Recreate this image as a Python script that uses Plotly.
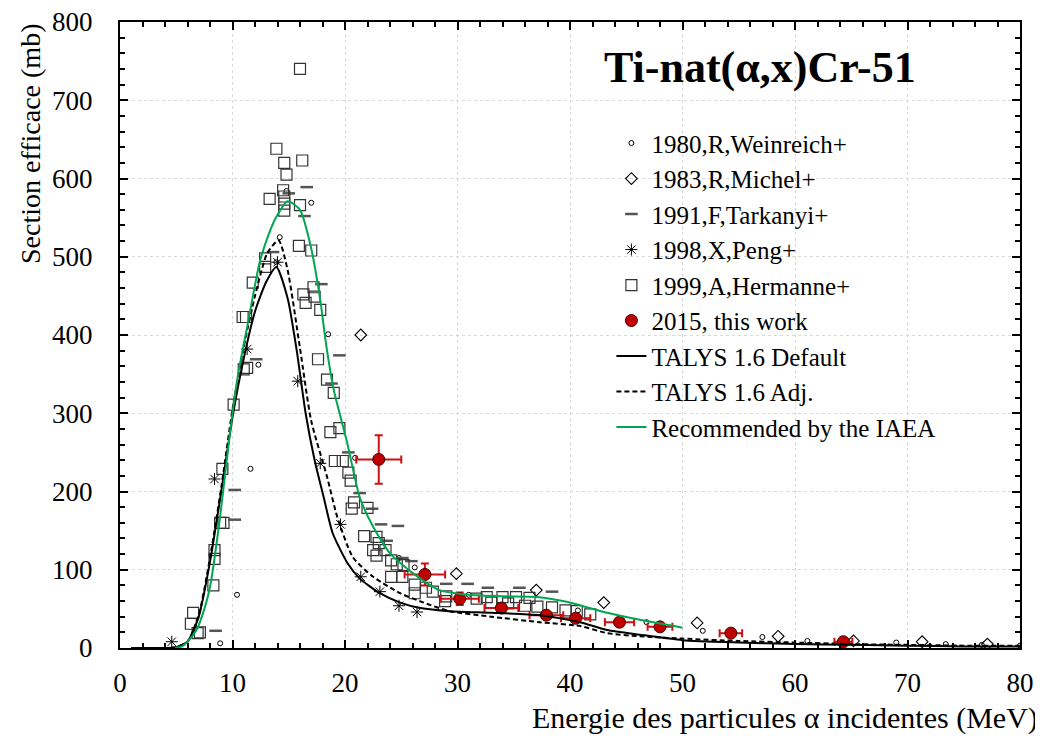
import plotly.graph_objects as go

# ---------------- data ----------------
wein_x = [8.9, 10.4, 11.6, 12.3, 13.9, 14.2, 14.8, 17.0, 18.5, 20.9, 24.8, 26.2, 27.1, 31.0, 40.7, 46.8, 51.8, 57.1, 61.1, 69.0, 73.4, 76.6, 80.0]
wein_y = [6, 68, 229, 362, 493, 525, 584, 569, 401, 243, 115, 103, 95, 68, 48, 33, 22, 14, 9, 7, 5, 4, 3]

mich_x = [21.4, 29.9, 37.0, 43.0, 51.3, 58.5, 65.2, 71.3, 77.1]
mich_y = [400, 95, 74, 58, 32, 15, 9, 8, 5]

tark_x = [8.5, 10.2, 10.2, 12.1, 13.6, 15.0, 16.4, 16.6, 17.9, 18.8, 19.5, 20.3, 21.3, 22.4, 23.2, 23.7, 24.7, 25.1, 25.9, 29.0, 30.9, 32.7, 35.5, 38.4]
tark_y = [22, 164, 202, 369, 506, 581, 552, 589, 465, 338, 374, 250, 198, 178, 158, 137, 156, 115, 111, 82, 82, 77, 77, 72]

peng_x = [4.6, 8.4, 11.3, 14.0, 15.8, 17.8, 19.6, 21.4, 23.1, 24.8, 26.4]
peng_y = [8, 216, 382, 493, 341, 236, 158, 91, 72, 54, 46]

herm_x = [6.3, 6.5, 6.9, 7.1, 8.3, 8.4, 8.4, 8.9, 9.2, 9.1, 10.1, 11.0, 11.3, 10.9, 11.2, 11.8, 12.9, 12.9, 13.3, 13.9,
          14.5, 14.6, 14.6, 14.6, 14.6, 14.8, 16.0, 16.2, 16.0, 15.9, 17.0, 17.2, 16.3, 17.3, 16.5, 17.8, 17.6, 18.4, 19.0, 18.7,
          19.5, 19.1, 19.8, 20.3, 20.5, 20.8, 20.6, 22.0, 21.7, 22.8, 23.0, 23.6, 22.5, 22.8, 24.1, 24.6, 25.2, 24.1, 25.1, 26.2,
          26.2, 27.2, 27.8, 29.0, 28.9, 31.7, 32.6, 34.0, 35.2, 33.0, 34.5, 36.0, 37.1, 38.4, 39.6, 40.6, 41.8, 36.4]
herm_y = [31, 45, 19, 20, 80, 114, 125, 160, 160, 229, 311, 356, 358, 423, 423, 467, 487, 498, 574, 638,
          585, 577, 568, 559, 620, 605, 740, 623, 566, 514, 508, 461, 452, 449, 441, 432, 369, 343, 326, 276,
          281, 239, 239, 224, 214, 186, 178, 179, 143, 142, 134, 125, 125, 118, 112, 107, 106, 91, 91, 81,
          70, 77, 72, 66, 60, 63, 65, 65, 65, 58, 57, 54, 53, 52, 48, 47, 43, 64]

work_x = [23.0, 27.1, 30.2, 33.9, 37.9, 40.5, 44.4, 48.0, 54.3, 64.3]
work_y = [241, 94, 63, 51, 42, 38, 33, 27, 19, 8]
work_xerr = [2.0, 1.8, 1.7, 1.5, 1.5, 1.3, 1.3, 1.1, 1.0, 0.8]
work_yerr = [31, 14, 8, 5, 4, 4, 3, 3, 2, 1]

tal_def_x = [1, 4, 5, 6, 7, 8, 9, 10, 11, 12, 13, 13.9, 14.9, 15.7, 16.5, 17.3, 18.1, 18.9, 20.2, 21.3, 23.1, 24.9, 26.7, 29.3,
             33, 37.3, 40.9, 43.3, 46.2, 50, 55, 60, 65, 70, 75, 80]
tal_def_y = [0, 0, 1, 8, 40, 110, 200, 295, 370, 430, 468, 487, 447, 381, 300, 240, 193, 147, 109, 89, 70, 58, 51, 47,
             45, 42, 33, 23, 17, 10, 7, 5, 4, 3, 2, 2]

tal_adj_x = [1, 4, 5, 6, 7, 8, 9, 10, 11, 12, 13.1, 14.1, 14.9, 16.0, 17.0, 18.4, 19.3, 20.7, 22.5, 24.9, 27, 29.3,
             33, 37.3, 40.9, 43.3, 46.2, 50, 55, 60, 65, 70, 75, 80]
tal_adj_y = [0, 0, 1, 8, 42, 115, 205, 305, 385, 450, 505, 521, 483, 383, 290, 219, 168, 116, 91, 70, 58, 47,
             40, 33, 28, 19, 15, 12, 9, 7, 5, 4, 3, 3]

iaea_x = [4.9, 5.5, 6.0, 6.8, 7.5, 8.0, 8.9, 9.8, 10.5, 11.3, 12.4, 13.2, 13.9, 14.9, 16.0, 16.9, 17.8, 18.3, 19.0, 20.2,
          21.3, 22.5, 24.0, 26.0, 28.4, 31.0, 34.0, 37.3, 39.7, 43.3, 46.2, 50.0]
iaea_y = [0, 2, 8, 23, 50, 78, 168, 278, 350, 410, 492, 528, 551, 571, 560, 517, 445, 390, 330, 262,
          193, 155, 121, 96, 74, 68, 66, 65, 59, 45, 36, 26]

x_ticks = [0, 10, 20, 30, 40, 50, 60, 70, 80]
y_ticks = [0, 100, 200, 300, 400, 500, 600, 700, 800]

FONT = "Liberation Serif, Times New Roman, serif"

fig = go.Figure()

fig.add_trace(go.Scatter(x=wein_x, y=wein_y, mode="markers", name="1980,R,Weinreich+",
                         marker=dict(symbol="circle-open", size=5, color="black", line=dict(width=1, color="black"))))
fig.add_trace(go.Scatter(x=mich_x, y=mich_y, mode="markers", name="1983,R,Michel+",
                         marker=dict(symbol="diamond-open", size=9, color="black", line=dict(width=1.1, color="black"))))
fig.add_trace(go.Scatter(x=tark_x, y=tark_y, mode="markers", name="1991,F,Tarkanyi+",
                         marker=dict(symbol="line-ew", size=9, color="#555555", line=dict(width=2.5, color="#555555"))))
fig.add_trace(go.Scatter(x=peng_x, y=peng_y, mode="markers", name="1998,X,Peng+",
                         marker=dict(symbol="asterisk", size=10, color="black", line=dict(width=1, color="black"))))
fig.add_trace(go.Scatter(x=herm_x, y=herm_y, mode="markers", name="1999,A,Hermanne+",
                         marker=dict(symbol="square-open", size=11, color="#333333", line=dict(width=1.2, color="#333333"))))
fig.add_trace(go.Scatter(x=work_x, y=work_y, mode="markers", name="2015, this work",
                         error_x=dict(type="data", array=work_xerr, color="#cc1111", thickness=2, width=4),
                         error_y=dict(type="data", array=work_yerr, color="#cc1111", thickness=2, width=4),
                         marker=dict(symbol="circle", size=12, color="#c00000", line=dict(width=1, color="#400000"))))
fig.add_trace(go.Scatter(x=tal_def_x, y=tal_def_y, mode="lines", name="TALYS 1.6 Default",
                         line=dict(color="black", width=2, shape="spline", smoothing=0.6)))
fig.add_trace(go.Scatter(x=tal_adj_x, y=tal_adj_y, mode="lines", name="TALYS 1.6 Adj.",
                         line=dict(color="black", width=2, dash="5px,3px", shape="spline", smoothing=0.6)))
fig.add_trace(go.Scatter(x=iaea_x, y=iaea_y, mode="lines", name="Recommended by the IAEA",
                         line=dict(color="#00a651", width=2, shape="spline", smoothing=0.6)))

axis_common = dict(
    showline=True, linewidth=2, linecolor="black", mirror="allticks",
    ticks="inside", ticklen=8, tickwidth=1.5, tickcolor="black",
    showgrid=True, gridcolor="#d9d9d9", griddash="dot", gridwidth=1,
    zeroline=False, ticklabeloverflow="allow", automargin=False,
    tickfont=dict(family=FONT, size=27, color="black"),
)

fig.update_xaxes(range=[0, 80], tickvals=x_ticks, ticktext=[str(v) for v in x_ticks],
                 minor=dict(dtick=2, ticks="inside", ticklen=5, tickcolor="black", showgrid=False),
                 ticklabelstandoff=10, **axis_common)
fig.update_yaxes(range=[0, 800], tickvals=y_ticks, ticktext=[str(v) for v in y_ticks],
                 minor=dict(dtick=20, ticks="inside", ticklen=5, tickcolor="black", showgrid=False),
                 ticklabelstandoff=20, **axis_common)

fig.update_layout(
    width=1035, height=730,
    margin=dict(l=112, r=23, t=14, b=90, autoexpand=False),
    paper_bgcolor="white", plot_bgcolor="white",
    font=dict(family=FONT, color="black"),
    showlegend=True,
    legend=dict(x=0.546, y=0.843, xanchor="left", yanchor="top",
                bgcolor="rgba(255,255,255,0)", borderwidth=0,
                font=dict(family=FONT, size=25, color="black"),
                tracegroupgap=0, itemwidth=30),
    annotations=[
        dict(text="<b>Ti-nat(α,x)Cr-51</b>", xref="paper", yref="paper", x=0.711, y=0.928,
             xanchor="center", yanchor="middle", showarrow=False,
             font=dict(family=FONT, size=44, color="black")),
        dict(text="Energie des particules α incidentes (MeV)", xref="paper", yref="paper",
             x=1.0222, y=-0.112, xanchor="right", yanchor="middle", showarrow=False,
             font=dict(family=FONT, size=30, color="black")),
        dict(text="Section efficace (mb)", xref="paper", yref="paper", x=-0.1, y=1.0,
             xanchor="center", yanchor="top", textangle=-90, showarrow=False,
             font=dict(family=FONT, size=28, color="black")),
    ],
)

fig.write_html("out.html")
